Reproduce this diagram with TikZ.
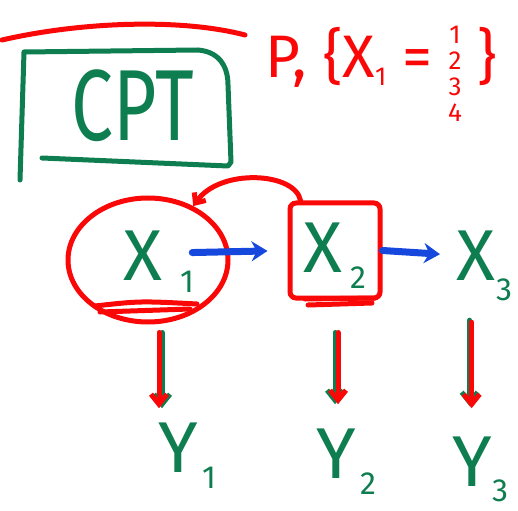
\documentclass[tikz,border=0pt]{standalone}
\usepackage{fontspec}
\setmainfont{Fira Sans}
\usetikzlibrary{shapes.geometric,arrows.meta}
\definecolor{pgreen}{RGB}{14,125,80}
\definecolor{pred}{RGB}{250,8,8}
\definecolor{pblue}{RGB}{22,72,222}
\begin{document}
\begin{tikzpicture}[x=1pt,y=-1pt,
  letter/.style={text=pgreen, inner sep=0pt, anchor=base west, font=\fontsize{72}{72}\selectfont},
  subtxt/.style={text=pgreen, inner sep=0pt, anchor=base west, font=\fontsize{32}{32}\selectfont},
  redline/.style={draw=pred, line width=5pt, line cap=round, line join=round},
  greenline/.style={draw=pgreen, line width=5pt, line cap=round, line join=round},
  bluearrow/.style={draw=pblue, line width=7pt, line cap=round, -{Stealth[length=16pt,width=20pt]}},
  downgreen/.style={greenline, -{Straight Barb[length=10pt,width=16pt]}},
  downred/.style={redline, -{Straight Barb[length=10pt,width=16pt]}},
  redarrow/.style={redline, -{Straight Barb[length=8pt,width=14pt]}}
]
\useasboundingbox (0,0) rectangle (518,510);

% top red stroke
\coordinate (t1) at (2,40);
\coordinate (t2) at (245,35);
\draw[redline] (t1) .. controls (80,22) and (180,18) .. (t2);

% CPT box
\node[text=pgreen, inner sep=0pt, font=\fontsize{101}{101}\selectfont] (cpt) at (133,106) {\scalebox{0.74}[1]{CPT}};
\draw[greenline] (20,180) -- (24,52) -- (198,50) .. controls (222,52) and (228,70) .. (228,85) -- (231,162) -- (228,166) -- (42,158);

% red text
\node[anchor=base west, inner sep=0pt, text=pred, font=\fontsize{60}{60}\selectfont] (prob) at (265,78)
  {P, \{X\raisebox{-8pt}{\fontsize{26}{26}\selectfont 1} = \raisebox{-6pt}{\fontsize{26}{26}\selectfont\begin{tabular}{@{}c@{}}1\\2\\3\\4\end{tabular}} \}};

% X nodes
\node[letter] (X1) at (123,280) {X};
\node[subtxt] (X1s) at (180,292) {1};
\node[letter] (X2) at (303,272) {X};
\node[subtxt] (X2s) at (350,288) {2};
\node[letter] (X3) at (456,280) {X};
\node[subtxt] (X3s) at (496,300) {3};

% Y nodes
\node[letter] (Y1) at (158,472) {Y};
\node[subtxt] (Y1s) at (202,488) {1};
\node[letter] (Y2) at (316,478) {Y};
\node[subtxt] (Y2s) at (360,494) {2};
\node[letter] (Y3) at (452,486) {Y};
\node[subtxt] (Y3s) at (492,501) {3};

% red ellipse and box
\node[ellipse, draw=pred, line width=5pt, minimum width=160pt, minimum height=124pt, inner sep=0pt] (e1) at (148,260) {};
\node[draw=pred, line width=5pt, rounded corners=6pt, minimum width=90pt, minimum height=95pt, inner sep=0pt] (r2) at (335,250.5) {};

% red underlines
\draw[redline] (95,306) .. controls (140,301) .. (197,304);
\draw[redline] (100,312) -- (190,309);
\draw[redline] (305,299) -- (375,298);
\draw[redline] (308,305) -- (372,303);

% red curved arrow
\draw[redarrow] ([xshift=13pt]r2.north west) .. controls (295,172) and (220,168) .. (e1.50);

% blue arrows
\draw[bluearrow, shorten <=30pt, shorten >=20pt] ([yshift=2pt]X1.east) -- (r2.west);
\draw[bluearrow, shorten >=16pt] (r2.east) -- (X3.west);

% down arrows
\draw[downgreen, shorten <=8pt, shorten >=14pt] ([xshift=14pt]e1.south) -- ([xshift=14pt]e1.south |- Y1.north);
\draw[downred, shorten <=8pt, shorten >=14pt] ([xshift=11pt]e1.south) -- ([xshift=11pt]e1.south |- Y1.north);
\draw[downgreen, shorten <=32pt, shorten >=24pt] ([xshift=0pt]r2.south) -- ([xshift=0pt]r2.south |- Y2.north);
\draw[downred, shorten <=32pt, shorten >=24pt] ([xshift=3pt]r2.south) -- ([xshift=3pt]r2.south |- Y2.north);
\draw[downgreen, shorten <=40pt, shorten >=30pt] ([xshift=-6pt]X3.south) -- ([xshift=-6pt]X3.south |- Y3.north);
\draw[downred, shorten <=42pt, shorten >=28pt] ([xshift=-4pt]X3.south) -- ([xshift=-4pt]X3.south |- Y3.north);
\end{tikzpicture}
\end{document}
